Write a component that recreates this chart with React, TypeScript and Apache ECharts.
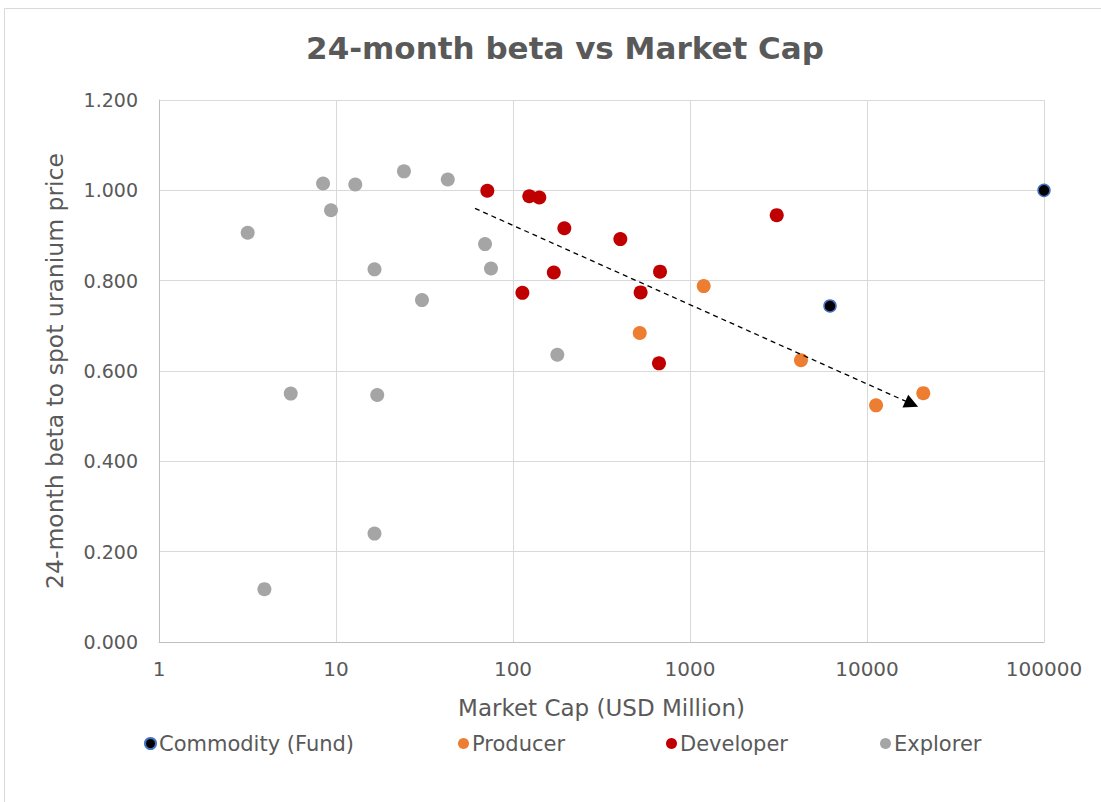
import React, { useEffect, useRef } from "react";
import * as echarts from "echarts";

const FONT = "'DejaVu Sans', 'Open Sans', sans-serif";
const TEXT = "#595959";

const seriesNames = ["Commodity (Fund)", "Producer", "Developer", "Explorer"];

const commodityCap = [6180, 100000];
const commodityBeta = [0.744, 1.0];

const producerCap = [520, 1195, 4236, 11250, 20800];
const producerBeta = [0.684, 0.788, 0.624, 0.524, 0.551];

const developerCap = [71.6, 113, 123.6, 140.8, 170, 195, 404, 526, 668, 677, 3090];
const developerBeta = [0.999, 0.773, 0.987, 0.984, 0.818, 0.916, 0.892, 0.774, 0.617, 0.82, 0.945];

const explorerCap = [3.17, 3.94, 5.55, 8.45, 9.37, 12.85, 16.5, 16.5, 17.1, 24.2, 30.6, 42.8, 69.5, 75.1, 178];
const explorerBeta = [0.906, 0.117, 0.55, 1.015, 0.956, 1.013, 0.825, 0.24, 0.547, 1.042, 0.757, 1.024, 0.881, 0.827, 0.636];

const trendStart = [61, 0.96];
const trendEnd = [17900, 0.527];

const yTicks = [0, 0.2, 0.4, 0.6, 0.8, 1.0, 1.2];

const zip = (xs: number[], ys: number[]) => xs.map((x, i) => [x, ys[i]]);

export default function App() {
  const ref = useRef<HTMLDivElement>(null);
  useEffect(() => {
    if (!ref.current) return;
    const chart = echarts.init(ref.current, undefined, { renderer: "svg" });
    const legendStyle = { color: TEXT, fontSize: 21, fontFamily: FONT };
    const mkLegend = (name: string, left: number) => ({
      data: [name],
      left,
      top: 733,
      icon: "circle",
      itemWidth: 11,
      itemHeight: 11,
      itemGap: 0,
      padding: 0,
      textStyle: { ...legendStyle, padding: [0, 0, 0, -2] },
      selectedMode: false,
    });
    chart.setOption({
      animation: false,
      backgroundColor: "#fff",
      title: {
        text: "24-month beta vs Market Cap",
        left: 560,
        textAlign: "center",
        top: 27,
        textStyle: { color: TEXT, fontSize: 31, fontWeight: 600, fontFamily: FONT },
      },
      graphic: [
        {
          type: "rect",
          shape: { x: 4.5, y: 8.5, width: 1200, height: 1000 },
          style: { fill: "none", stroke: "#D9D9D9", lineWidth: 1 },
          silent: true,
        },
      ],
      legend: [
        mkLegend(seriesNames[0], 144),
        mkLegend(seriesNames[1], 458),
        mkLegend(seriesNames[2], 666),
        mkLegend(seriesNames[3], 880),
      ],
      grid: { left: 159, right: 57, top: 100, bottom: 160, containLabel: false },
      xAxis: {
        type: "log",
        logBase: 10,
        min: 1,
        max: 100000,
        name: "Market Cap (USD Million)",
        nameLocation: "middle",
        nameGap: 54,
        nameTextStyle: { color: TEXT, fontSize: 23, fontFamily: FONT },
        axisLine: { show: true, lineStyle: { color: "#BFBFBF", width: 1 } },
        axisTick: { show: false },
        splitLine: { show: true, lineStyle: { color: "#D9D9D9", width: 1 } },
        minorSplitLine: { show: false },
        axisLabel: {
          color: TEXT,
          fontSize: 20,
          fontFamily: FONT,
          margin: 17,
          formatter: (v: number) => String(Math.round(v)),
        },
      },
      yAxis: {
        type: "value",
        min: 0,
        max: 1.2,
        interval: 0.2,
        name: "24-month beta to spot uranium price",
        nameLocation: "middle",
        nameGap: 92,
        nameTextStyle: { color: TEXT, fontSize: 23.5, fontFamily: FONT },
        axisLine: { show: true, lineStyle: { color: "#BFBFBF", width: 1 } },
        axisTick: { show: false },
        splitLine: { show: true, lineStyle: { color: "#D9D9D9", width: 1 } },
        axisLabel: {
          color: TEXT,
          fontSize: 19,
          fontFamily: FONT,
          margin: 21,
          formatter: (v: number) => {
            const t = yTicks.find((k) => Math.abs(k - v) < 1e-6);
            return (t ?? v).toFixed(3);
          },
        },
      },
      series: [
        {
          name: seriesNames[0],
          type: "scatter",
          symbol: "circle",
          symbolSize: 12,
          itemStyle: { color: "#000000", borderColor: "#4472C4", borderWidth: 1.5, opacity: 1 },
          data: zip(commodityCap, commodityBeta),
          z: 5,
        },
        {
          name: seriesNames[1],
          type: "scatter",
          symbol: "circle",
          symbolSize: 14,
          itemStyle: { color: "#ED7D31", opacity: 1 },
          data: zip(producerCap, producerBeta),
        },
        {
          name: seriesNames[2],
          type: "scatter",
          symbol: "circle",
          symbolSize: 14,
          itemStyle: { color: "#C00000", opacity: 1 },
          data: zip(developerCap, developerBeta),
        },
        {
          name: seriesNames[3],
          type: "scatter",
          symbol: "circle",
          symbolSize: 14,
          itemStyle: { color: "#A5A5A5", opacity: 1 },
          data: zip(explorerCap, explorerBeta),
          markLine: {
            silent: true,
            symbol: ["none", "triangle"],
            symbolSize: [14, 14],
            label: { show: false },
            lineStyle: { color: "#000000", type: [5, 4], width: 1.3, opacity: 1 },
            emphasis: { disabled: true },
            data: [[{ coord: trendStart }, { coord: trendEnd }]],
          },
        },
      ],
    });
    return () => chart.dispose();
  }, []);
  return (
    <div
      ref={ref}
      style={{ position: "fixed", left: 0, top: 0, width: 1101, height: 802 }}
    />
  );
}
